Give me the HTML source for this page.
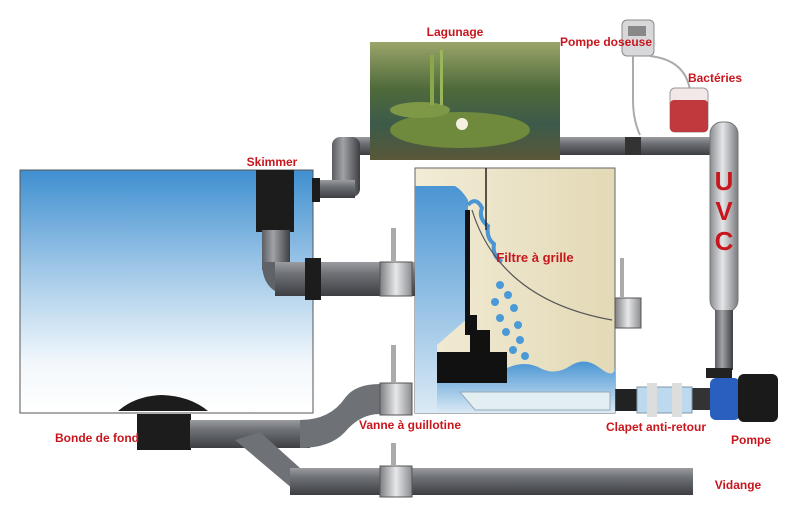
<!DOCTYPE html>
<html><head><meta charset="utf-8"><style>
html,body{margin:0;padding:0;background:#fff;}
svg{display:block}
text{font-family:"Liberation Sans Narrow","Liberation Sans",sans-serif;font-weight:bold;fill:#c8161d;font-size:12px}
</style></head><body>
<svg width="800" height="514" viewBox="0 0 800 514" xmlns="http://www.w3.org/2000/svg">
<defs>
<linearGradient id="pond" x1="0" y1="0" x2="0" y2="1">
<stop offset="0" stop-color="#3f8fd0"/><stop offset="0.45" stop-color="#a9cdea"/><stop offset="0.8" stop-color="#f3f8fc"/><stop offset="1" stop-color="#fff"/></linearGradient>
<linearGradient id="pipeH" x1="0" y1="0" x2="0" y2="1">
<stop offset="0" stop-color="#9a9ca0"/><stop offset="0.35" stop-color="#6e7176"/><stop offset="1" stop-color="#3c3e42"/></linearGradient>
<linearGradient id="pipeV" x1="0" y1="0" x2="1" y2="0">
<stop offset="0" stop-color="#5a5d62"/><stop offset="0.4" stop-color="#a0a2a6"/><stop offset="1" stop-color="#3c3e42"/></linearGradient>
<linearGradient id="uvc" x1="0" y1="0" x2="1" y2="0">
<stop offset="0" stop-color="#8c8e92"/><stop offset="0.45" stop-color="#e4e5e7"/><stop offset="1" stop-color="#7a7c80"/></linearGradient>
<linearGradient id="lag" x1="0" y1="0" x2="0" y2="1">
<stop offset="0" stop-color="#9aa56a"/><stop offset="0.4" stop-color="#4f6a3a"/><stop offset="0.7" stop-color="#3c5a4a"/><stop offset="1" stop-color="#5a5838"/></linearGradient>
<linearGradient id="filt" x1="0" y1="0" x2="1" y2="0">
<stop offset="0" stop-color="#f2ecd6"/><stop offset="1" stop-color="#e3d9b6"/></linearGradient>
<linearGradient id="fw" x1="0" y1="0" x2="0" y2="1">
<stop offset="0" stop-color="#4a95d3"/><stop offset="1" stop-color="#dbeaf5"/></linearGradient>
<linearGradient id="coll" x1="0" y1="0" x2="1" y2="0">
<stop offset="0" stop-color="#7d7f83"/><stop offset="0.5" stop-color="#e8e8ea"/><stop offset="1" stop-color="#8a8c90"/></linearGradient>
</defs>

<rect x="20" y="170" width="293" height="243" fill="url(#pond)" stroke="#555" stroke-width="1"/>

<rect x="345" y="137" width="375" height="18" fill="url(#pipeH)"/>
<rect x="332" y="137" width="28" height="60" rx="8" fill="url(#pipeV)"/>
<rect x="315" y="180" width="40" height="18" fill="url(#pipeH)"/>
<rect x="312" y="178" width="8" height="24" fill="#1c1c1c"/>
<rect x="625" y="137" width="16" height="18" fill="#333"/>

<rect x="370" y="42" width="190" height="118" fill="url(#lag)"/>
<ellipse cx="460" cy="130" rx="70" ry="18" fill="#6f8a3c"/>
<ellipse cx="420" cy="110" rx="30" ry="8" fill="#7e9848"/>
<circle cx="462" cy="124" r="6" fill="#f5f0e0"/>
<rect x="430" y="55" width="4" height="50" fill="#8aa84a"/><rect x="440" y="50" width="3" height="55" fill="#9ab65a"/>

<rect x="622" y="20" width="32" height="36" rx="5" fill="#d8d8da" stroke="#888"/>
<rect x="628" y="26" width="18" height="10" fill="#888"/>
<path d="M633 56 V100 Q633 120 640 135" stroke="#aaa" stroke-width="2" fill="none"/>
<path d="M650 56 Q685 60 690 90" stroke="#aaa" stroke-width="2" fill="none"/>
<rect x="670" y="88" width="38" height="44" rx="5" fill="#f2e8e8" stroke="#999"/>
<rect x="670" y="100" width="38" height="32" rx="4" fill="#c0393d"/>

<rect x="710" y="122" width="28" height="190" rx="12" fill="url(#uvc)" stroke="#777"/>
<text x="724" y="190" text-anchor="middle" style="font-size:26px">U</text>
<text x="724" y="220" text-anchor="middle" style="font-size:26px">V</text>
<text x="724" y="250" text-anchor="middle" style="font-size:26px">C</text>
<rect x="715" y="310" width="18" height="60" fill="url(#pipeV)"/>

<rect x="706" y="368" width="26" height="10" fill="#222"/>
<rect x="710" y="378" width="30" height="42" rx="6" fill="#2a5fc0"/>
<rect x="738" y="374" width="40" height="48" rx="6" fill="#1a1a1a"/>
<rect x="690" y="388" width="20" height="22" fill="#333"/>
<rect x="615" y="389" width="22" height="22" fill="#222"/>
<rect x="637" y="387" width="55" height="26" fill="#bcd9ee" stroke="#7f98a8"/>
<rect x="647" y="383" width="10" height="34" fill="#ddd"/><rect x="672" y="383" width="10" height="34" fill="#ddd"/>

<rect x="415" y="168" width="200" height="245" fill="url(#filt)" stroke="#666"/>
<path d="M415 186 L455 186 Q462 190 468 200 L468 318 L437 345 L437 413 L415 413Z" fill="url(#fw)"/>
<path d="M468 205 Q476 196 482 208 Q478 218 488 226 Q486 238 494 244 Q492 256 502 262" stroke="#4a95d3" stroke-width="4" fill="none"/>
<path d="M472 210 Q500 300 612 320" stroke="#555" stroke-width="1.2" fill="none"/>
<line x1="486" y1="168" x2="486" y2="230" stroke="#222" stroke-width="1.5"/>
<rect x="465" y="210" width="5" height="125" fill="#111"/>
<path d="M470 315 H477 V330 H490 V352 H507 V383 H437 V352 H470Z" fill="#111"/>
<path d="M507 368 Q525 360 540 368 T570 366 T600 368 T615 366 V413 H437 V383 H507Z" fill="url(#fw)"/>
<path d="M460 392 H610 V410 H475Z" fill="#e3eef2" stroke="#9ab"/>
<g fill="#4a9ad8">
<circle cx="500" cy="285" r="4"/><circle cx="508" cy="295" r="4"/><circle cx="495" cy="302" r="4"/><circle cx="514" cy="308" r="4"/><circle cx="500" cy="318" r="4"/><circle cx="518" cy="325" r="4"/><circle cx="506" cy="332" r="4"/><circle cx="520" cy="340" r="4"/><circle cx="513" cy="350" r="4"/><circle cx="525" cy="356" r="4"/>
</g>
<rect x="615" y="298" width="26" height="30" fill="url(#coll)" stroke="#555"/>
<rect x="620" y="258" width="4" height="40" fill="#aaa"/>

<rect x="256" y="170" width="38" height="62" fill="#1c1c1c"/>
<rect x="262" y="230" width="28" height="40" fill="url(#pipeV)"/>
<path d="M262 262 Q262 296 296 296 L296 262Z" fill="#5f6267"/>
<rect x="275" y="262" width="140" height="34" fill="url(#pipeH)"/>
<rect x="305" y="258" width="16" height="42" fill="#1c1c1c"/>
<rect x="380" y="262" width="32" height="34" fill="url(#coll)" stroke="#555"/>
<rect x="391" y="228" width="5" height="34" fill="#aaa"/>

<path d="M118 411 Q135 396 162 395 Q190 396 208 411Z" fill="#1c1c1c"/>
<rect x="137" y="414" width="54" height="36" fill="#1c1c1c"/>
<rect x="190" y="420" width="120" height="28" fill="url(#pipeH)"/>
<path d="M300 420 Q330 420 345 398 Q355 384 380 384 L380 414 Q360 414 345 432 Q330 448 300 448Z" fill="#6e7176"/>
<rect x="380" y="383" width="32" height="32" fill="url(#coll)" stroke="#555"/>
<rect x="391" y="345" width="5" height="38" fill="#aaa"/>
<path d="M235 440 L260 432 L300 468 L300 495 Z" fill="#6e7176"/>
<rect x="290" y="468" width="403" height="27" fill="url(#pipeH)"/>
<rect x="380" y="466" width="32" height="31" fill="url(#coll)" stroke="#555"/>
<rect x="391" y="443" width="5" height="23" fill="#aaa"/>

<text x="455" y="36" text-anchor="middle">Lagunage</text>
<text x="606" y="46" text-anchor="middle">Pompe doseuse</text>
<text x="715" y="82" text-anchor="middle">Bactéries</text>
<text x="272" y="166" text-anchor="middle">Skimmer</text>
<text x="535" y="262" text-anchor="middle" style="font-size:13px">Filtre à grille</text>
<text x="97" y="442" text-anchor="middle">Bonde de fond</text>
<text x="410" y="429" text-anchor="middle">Vanne à guillotine</text>
<text x="656" y="431" text-anchor="middle">Clapet anti-retour</text>
<text x="751" y="444" text-anchor="middle">Pompe</text>
<text x="738" y="489" text-anchor="middle">Vidange</text>
</svg>
</body></html>
